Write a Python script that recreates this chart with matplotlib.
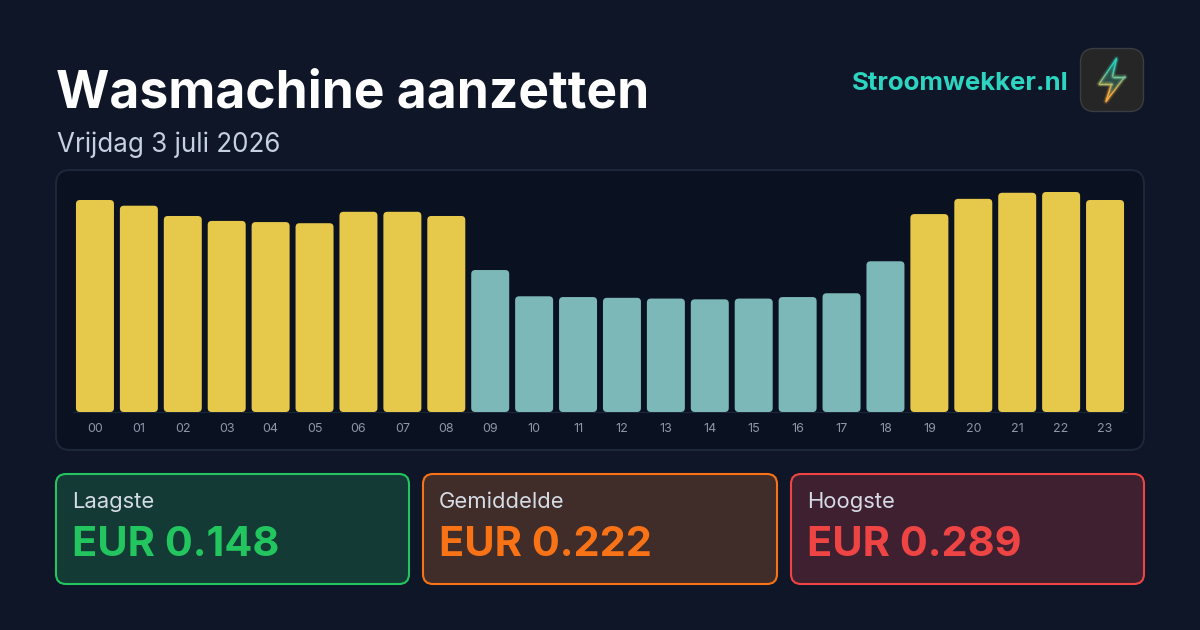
import matplotlib
matplotlib.use("Agg")
import matplotlib.pyplot as plt
from matplotlib.patches import FancyBboxPatch
from matplotlib.collections import LineCollection
import numpy as np

plt.rcParams['font.family'] = ['Inter', 'DejaVu Sans']

hours = ["%02d" % h for h in range(24)]
prices = [0.2785, 0.271, 0.2575, 0.251, 0.2495, 0.248, 0.263, 0.263, 0.2575,
          0.1865, 0.152, 0.151, 0.150, 0.149, 0.148, 0.149, 0.151, 0.156, 0.198,
          0.260, 0.280, 0.288, 0.289, 0.2785]
cheap_hours = ["09", "10", "11", "12", "13", "14", "15", "16", "17", "18"]

title = "Wasmachine aanzetten"
subtitle = "Vrijdag 3 juli 2026"
brand = "Stroomwekker.nl"
card_labels = ["Laagste", "Gemiddelde", "Hoogste"]
card_values = ["EUR 0.148", "EUR 0.222", "EUR 0.289"]

W, H = 1200, 630
BG = "#0e1628"
YELLOW = "#e6c84a"
TEAL = "#7db8b8"


def px(size):
    # font size in pixels to points at dpi 100
    return size * 0.72


def rounded(ax, x0, y0, x1, y1, r, **kw):
    box = FancyBboxPatch((x0 + r, y0 + r), x1 - x0 - 2 * r, y1 - y0 - 2 * r,
                         boxstyle="round,pad=%f,rounding_size=%f" % (r, r), **kw)
    ax.add_patch(box)
    return box


fig = plt.figure(figsize=(W / 100, H / 100), dpi=100, facecolor=BG)

# overlay in pixel coordinates for the cards and text
bg = fig.add_axes([0, 0, 1, 1])
bg.set_xlim(0, W)
bg.set_ylim(H, 0)
bg.axis("off")

bg.text(56, 108, title, color="white", fontsize=px(51.5), fontweight="bold", va="baseline")
bg.text(57, 152, subtitle, color="#c5d0e0", fontsize=px(26), va="baseline")
bg.text(1069, 90, brand, color="#2dd4bf", fontsize=px(25.8), fontweight="bold", ha="right", va="baseline")

# chart panel
rounded(bg, 56, 170, 1144, 450, 14, fc="#0a1120", ec="#1c2738", lw=1.5)

# logo
rounded(bg, 1080.5, 48.5, 1143.5, 111.5, 14, fc="#262626", ec="#3a3d42", lw=1)
bolt_x = [1116.5, 1099, 1111.5, 1106, 1125, 1112.5, 1116.5]
bolt_y = [58.5, 84, 84, 101.5, 76.5, 76.5, 58.5]
bg.fill(bolt_x, bolt_y, color="#2f6a62", alpha=0.6, lw=0)
pts = []
for i in range(len(bolt_x) - 1):
    t = np.linspace(0, 1, 12)
    pts.append(np.column_stack([bolt_x[i] + t * (bolt_x[i + 1] - bolt_x[i]),
                                bolt_y[i] + t * (bolt_y[i + 1] - bolt_y[i])]))
pts = np.vstack(pts)
segs = np.stack([pts[:-1], pts[1:]], axis=1)
mid = segs[:, :, 1].mean(axis=1)
f = np.clip((mid - 68) / 24, 0, 1)[:, None]
cols = (1 - f) * np.array([0.18, 0.83, 0.75]) + f * np.array([0.98, 0.68, 0.25])
for lw, a in [(4, 0.07), (2.2, 0.15), (0.8, 1.0)]:
    bg.add_collection(LineCollection(segs, colors=np.column_stack([cols, np.full(len(cols), a)]),
                                     linewidths=lw, capstyle="round"))

# stat cards
card_x = [(56, 409), (423, 777), (791, 1144)]
card_fill = ["#143a35", "#402c28", "#3f2030"]
card_edge = ["#22c55e", "#f97316", "#ef4444"]
for (x0, x1), lab, val, fc, ec in zip(card_x, card_labels, card_values, card_fill, card_edge):
    rounded(bg, x0, 474, x1, 584, 10, fc=fc, ec=ec, lw=1.5)
    bg.text(x0 + 16, 508, lab, color="#d5dce6", fontsize=px(22), va="baseline")
    bg.text(x0 + 16, 556, val, color=ec, fontsize=px(41.5), fontweight="bold", va="baseline")

# bars, the axes runs from the baseline (y=412) up to y=176
ax = fig.add_axes([73 / W, (H - 412) / H, (1127 - 73) / W, (412 - 176) / H])
ax.patch.set_alpha(0)
hour_px = (1127 - 73) / 24
eur_per_px = 0.289 / 220
ax.set_xlim(-0.5, 23.5)
ax.set_ylim(0, 236 * eur_per_px)
aspect = eur_per_px * hour_px
width = 38 / hour_px
r = 4 / hour_px
for i, (h, p) in enumerate(zip(hours, prices)):
    color = TEAL if h in cheap_hours else YELLOW
    ax.add_patch(FancyBboxPatch((i - width / 2 + r, r * aspect), width - 2 * r, p - 2 * r * aspect,
                                boxstyle="round,pad=%f,rounding_size=%f" % (r, r),
                                mutation_aspect=aspect, fc=color, ec="none"))
ax.set_xticks(range(24), hours)
ax.tick_params(axis="x", length=0, colors="#8c97a8", labelsize=px(12.5), pad=8)
ax.set_yticks([])
for s in ax.spines.values():
    s.set_visible(False)
ax.spines["bottom"].set_visible(True)
ax.spines["bottom"].set_color("#1c2738")
ax.spines["bottom"].set_zorder(0)

fig.savefig("out.png", dpi=100, facecolor=BG)
